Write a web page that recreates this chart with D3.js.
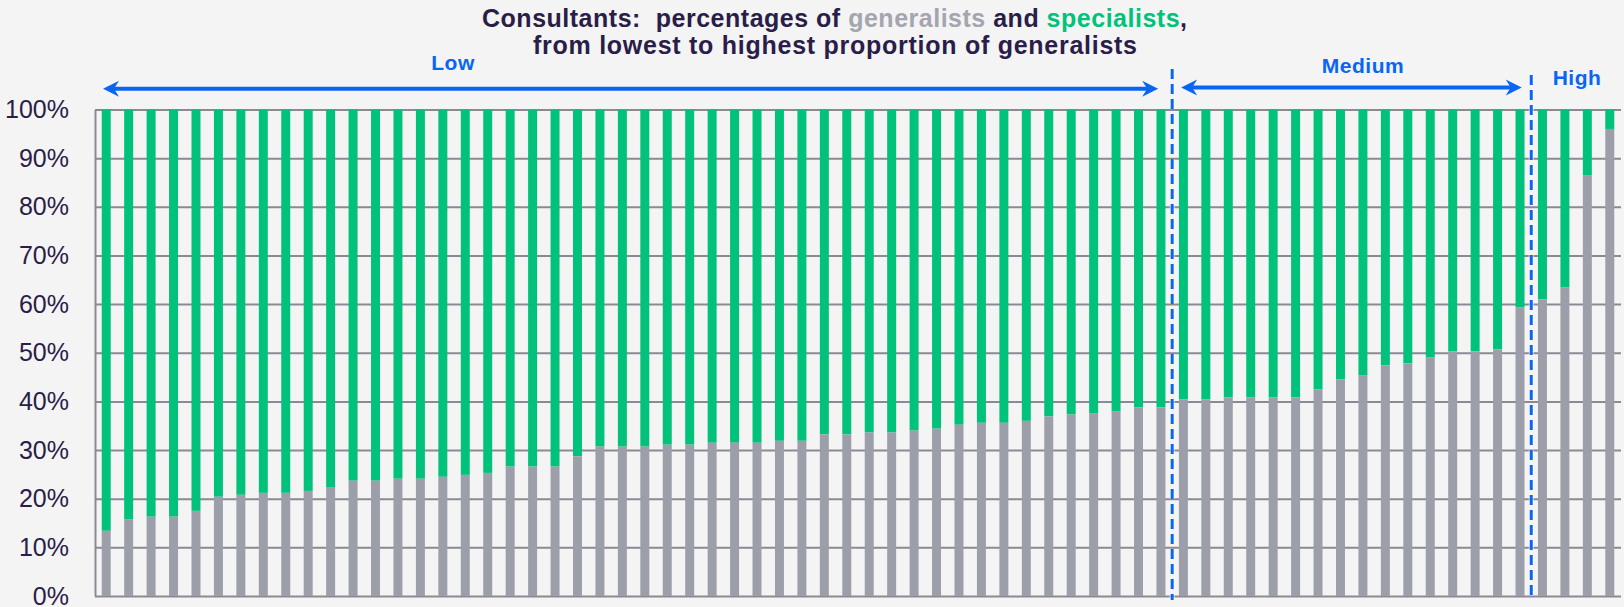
<!DOCTYPE html>
<html>
<head>
<meta charset="utf-8">
<script src="https://cdn.jsdelivr.net/npm/d3@7"></script>
<style>
  html, body { margin: 0; padding: 0; background: #f4f4f4; }
  svg { display: block; font-family: "Liberation Sans", Arial, sans-serif; }
</style>
</head>
<body>
<div id="chart"></div>
<script>
// one bar per consultant, sorted by share of generalists
var consultants = d3.range(1, 69).map(function (i) { return "C" + i; });

var generalists = [
    13.4, 15.8, 16.3, 16.3, 17.5, 20.4, 20.8, 21.2, 21.2, 21.6,
    22.4, 23.7, 23.7, 24.1, 24.1, 24.5, 24.9, 25.3, 26.6, 26.6,
    26.6, 28.7, 30.7, 30.7, 30.7, 31.1, 31.1, 31.5, 31.5, 31.5,
    31.9, 31.9, 33.2, 33.2, 33.6, 33.6, 34.0, 34.4, 35.2, 35.6,
    35.6, 36.0, 36.9, 37.3, 37.6, 37.9, 38.8, 38.8, 40.4, 40.4,
    40.8, 40.8, 40.8, 40.8, 42.5, 44.5, 45.3, 47.4, 47.8, 49.0,
    50.3, 50.3, 50.7, 59.3, 61.0, 63.4, 86.4, 96.0
];

var specialists = [
    86.6, 84.2, 83.7, 83.7, 82.5, 79.6, 79.2, 78.8, 78.8, 78.4,
    77.6, 76.3, 76.3, 75.9, 75.9, 75.5, 75.1, 74.7, 73.4, 73.4,
    73.4, 71.3, 69.3, 69.3, 69.3, 68.9, 68.9, 68.5, 68.5, 68.5,
    68.1, 68.1, 66.8, 66.8, 66.4, 66.4, 66.0, 65.6, 64.8, 64.4,
    64.4, 64.0, 63.1, 62.7, 62.4, 62.1, 61.2, 61.2, 59.6, 59.6,
    59.2, 59.2, 59.2, 59.2, 57.5, 55.5, 54.7, 52.6, 52.2, 51.0,
    49.7, 49.7, 49.3, 40.7, 39.0, 36.6, 13.6, 4.0
];

var yTicks = [0, 10, 20, 30, 40, 50, 60, 70, 80, 90, 100];

// how many consultants fall in each group, left to right
var groupNames = ["Low", "Medium", "High"];
var groupSizes = [48, 16, 4];

var colors = { gen: "#9c9faa", spec: "#00c27a", text: "#2a1d48", blue: "#0a66f2", grid: "#8b8993" };

var width = 1624, height = 607;
var plotLeft = 95, plotRight = 1621, plotTop = 109.5, plotBottom = 596;

var svg = d3.select("#chart").append("svg")
    .attr("width", width)
    .attr("height", height);

svg.append("rect").attr("width", width).attr("height", height).attr("fill", "#f4f4f4");

var x = d3.scaleBand()
    .domain(consultants)
    .range([plotLeft, plotRight])
    .paddingInner(0.6)
    .paddingOuter(0.3);

var y = d3.scaleLinear()
    .domain([0, 100])
    .range([plotBottom, plotTop]);

// grid + y axis
var yAxis = d3.axisLeft(y)
    .tickValues(yTicks)
    .tickSize(-(plotRight - plotLeft))
    .tickSizeOuter(0)
    .tickPadding(26)
    .tickFormat(function (d) { return d + "%"; });

var gy = svg.append("g")
    .attr("transform", "translate(" + plotLeft + ",0)")
    .call(yAxis);

gy.select(".domain").attr("stroke", colors.grid).attr("stroke-width", 2);
gy.selectAll(".tick line").attr("stroke", colors.grid).attr("stroke-width", 2);
gy.selectAll(".tick text")
    .attr("fill", colors.text)
    .attr("font-size", "25px")
    .attr("font-family", "'Liberation Sans', Arial, sans-serif");

var rows = consultants.map(function (c, i) {
    return { name: c, gen: generalists[i], spec: specialists[i] };
});

// specialists on top of generalists
svg.append("g").selectAll("rect")
    .data(rows)
    .enter().append("rect")
    .attr("x", function (d) { return x(d.name); })
    .attr("width", x.bandwidth())
    .attr("y", function (d) { return y(d.gen + d.spec); })
    .attr("height", function (d) { return y(d.gen) - y(d.gen + d.spec); })
    .attr("fill", colors.spec);

svg.append("g").selectAll("rect")
    .data(rows)
    .enter().append("rect")
    .attr("x", function (d) { return x(d.name); })
    .attr("width", x.bandwidth())
    .attr("y", function (d) { return y(d.gen); })
    .attr("height", function (d) { return y(0) - y(d.gen); })
    .attr("fill", colors.gen);

// group boundaries
var step = x.step();
var cut1 = plotLeft + step * groupSizes[0];
var cut2 = plotLeft + step * (groupSizes[0] + groupSizes[1]);

function dashed(xx, y0, y1) {
    svg.append("line")
        .attr("x1", xx).attr("x2", xx)
        .attr("y1", y0).attr("y2", y1)
        .attr("stroke", "#ffffff")
        .attr("stroke-width", 5)
        .attr("stroke-opacity", 0.6)
        .attr("stroke-dasharray", "10,5");
    svg.append("line")
        .attr("x1", xx).attr("x2", xx)
        .attr("y1", y0).attr("y2", y1)
        .attr("stroke", colors.blue)
        .attr("stroke-width", 3)
        .attr("stroke-dasharray", "10,5");
}
dashed(cut1, 69, 600);
dashed(cut2, 75, 597);

// double headed arrows
function head(tx, ty, dir) {
    // dir = -1 points left, 1 points right
    var p = [[tx, ty], [tx - dir * 16, ty - 8], [tx - dir * 11, ty], [tx - dir * 16, ty + 8]];
    svg.append("path")
        .attr("d", "M" + p.join("L") + "Z")
        .attr("fill", colors.blue);
}
function arrow(x0, x1, yy) {
    svg.append("line")
        .attr("x1", x0 + 10).attr("x2", x1 - 10)
        .attr("y1", yy).attr("y2", yy)
        .attr("stroke", colors.blue)
        .attr("stroke-width", 4);
    head(x0, yy, -1);
    head(x1, yy, 1);
}
arrow(plotLeft + 8, cut1 - 14, 88.8);
arrow(cut1 + 9, cut2 - 9.5, 87.5);

var labelPos = [
    { x: 453, y: 69.5 },
    { x: 1363, y: 72.5 },
    { x: 1577, y: 85 }
];
svg.append("g").selectAll("text")
    .data(groupNames)
    .enter().append("text")
    .attr("x", function (d, i) { return labelPos[i].x; })
    .attr("y", function (d, i) { return labelPos[i].y; })
    .attr("text-anchor", "middle")
    .attr("font-size", "21px")
    .attr("font-weight", "bold")
    .attr("letter-spacing", "0.5px")
    .attr("fill", colors.blue)
    .text(function (d) { return d; });

// title
var t1 = svg.append("text")
    .attr("x", 834.5)
    .attr("y", 26.5)
    .attr("text-anchor", "middle")
    .attr("font-size", "25px")
    .attr("font-weight", "bold")
    .attr("fill", colors.text)
    .attr("textLength", 705)
    .attr("lengthAdjust", "spacing")
    .style("white-space", "pre");
t1.append("tspan").text("Consultants:  percentages of ");
t1.append("tspan").attr("fill", "#a3a5af").text("generalists");
t1.append("tspan").text(" and ");
t1.append("tspan").attr("fill", colors.spec).text("specialists");
t1.append("tspan").text(",");

svg.append("text")
    .attr("x", 835)
    .attr("y", 54)
    .attr("text-anchor", "middle")
    .attr("font-size", "25px")
    .attr("font-weight", "bold")
    .attr("fill", colors.text)
    .attr("textLength", 604)
    .attr("lengthAdjust", "spacing")
    .text("from lowest to highest proportion of generalists");
</script>
</body>
</html>
